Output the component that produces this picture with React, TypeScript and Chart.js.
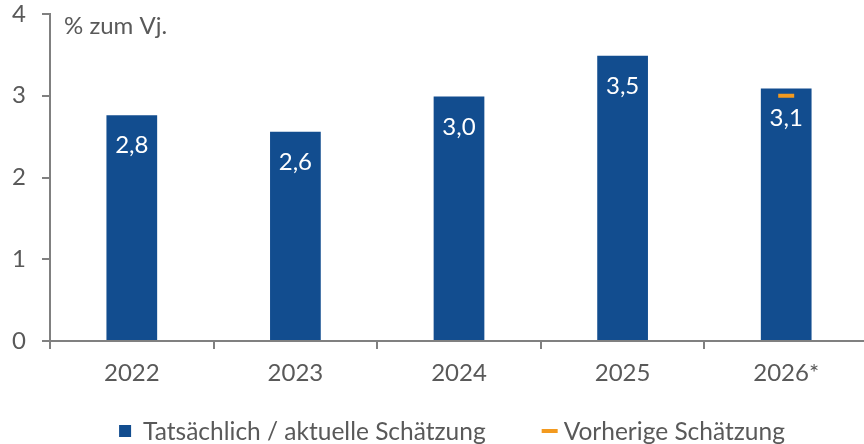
import React, { useEffect, useRef } from 'react';
import { Chart, registerables } from 'chart.js';

Chart.register(...registerables);

const categories = ['2022', '2023', '2024', '2025', '2026*'];
const currentValues = [2.76, 2.56, 2.99, 3.49, 3.09];
const previousValues: (number | null)[] = [null, null, null, null, 3.0];
const yTicks = [0, 1, 2, 3, 4];
const seriesNames = ['Tatsächlich / aktuelle Schätzung', 'Vorherige Schätzung'];
const unitLabel = '% zum Vj.';

const BLUE = '#124D8F';
const ORANGE = '#F39A1F';
const TEXT = '#595959';
const AXIS = '#808080';
const FONT = 'Lato';
const FS = 24;

const fmt = (v: number) => v.toFixed(1).replace('.', ',');

const customPlugin = {
  id: 'custom',
  afterDatasetsDraw(chart: any) {
    const ctx = chart.ctx;
    const meta = chart.getDatasetMeta(0);
    ctx.save();
    ctx.fillStyle = '#FFFFFF';
    ctx.font = `${FS}px ${FONT}`;
    ctx.textAlign = 'center';
    ctx.textBaseline = 'alphabetic';
    meta.data.forEach((bar: any, i: number) => {
      ctx.fillText(fmt(currentValues[i]), bar.x, bar.y + 38);
    });
    ctx.restore();
  },
  afterDraw(chart: any) {
    const ctx = chart.ctx;
    const area = chart.chartArea;
    ctx.save();
    ctx.font = `${FS}px ${FONT}`;
    ctx.fillStyle = TEXT;
    ctx.textAlign = 'left';
    ctx.textBaseline = 'alphabetic';
    ctx.fillText(unitLabel, area.left + 14, 34);

    // legend
    ctx.font = `24.5px ${FONT}`;
    const w1 = ctx.measureText(seriesNames[0]).width;
    const w2 = ctx.measureText(seriesNames[1]).width;
    const box = 12, gap = 12, spacing = 56, dashW = 16, gap2 = 6;
    const total = box + gap + w1 + spacing + dashW + gap2 + w2;
    let x = 452 - total / 2;
    const baseY = 440;
    ctx.fillStyle = BLUE;
    ctx.fillRect(x, 425, box, box);
    x += box + gap;
    ctx.fillStyle = TEXT;
    ctx.fillText(seriesNames[0], x, baseY);
    x += w1 + spacing;
    ctx.fillStyle = ORANGE;
    ctx.fillRect(x, 429, dashW, 4);
    x += dashW + gap2;
    ctx.fillStyle = TEXT;
    ctx.fillText(seriesNames[1], x, baseY);
    ctx.restore();
  },
};

export default function App() {
  const ref = useRef<HTMLCanvasElement | null>(null);
  useEffect(() => {
    if (!ref.current) return;
    const chart = new Chart(ref.current, {
      type: 'bar',
      data: {
        labels: categories,
        datasets: [
          {
            type: 'bar',
            label: seriesNames[0],
            data: currentValues,
            backgroundColor: BLUE,
            borderWidth: 0,
            categoryPercentage: 1,
            barPercentage: 0.31,
            order: 1,
          },
          {
            type: 'line',
            label: seriesNames[1],
            data: previousValues,
            showLine: false,
            pointStyle: 'line',
            pointRadius: 8,
            pointBorderWidth: 4,
            borderColor: ORANGE,
            backgroundColor: ORANGE,
            pointBorderColor: ORANGE,
            order: 0,
          } as any,
        ],
      },
      options: {
        responsive: false,
        animation: false,
        devicePixelRatio: 1,
        layout: { padding: { top: 14, bottom: 43, left: 0, right: 8 } },
        plugins: {
          legend: { display: false },
          tooltip: { enabled: false },
        },
        scales: {
          x: {
            type: 'category',
            offset: true,
            grid: {
              display: true,
              drawOnChartArea: false,
              drawTicks: true,
              tickLength: 8,
              color: AXIS,
              lineWidth: 2,
              offset: true,
            },
            border: { display: true, color: AXIS, width: 2 },
            ticks: { color: TEXT, font: { family: FONT, size: FS }, padding: 10, maxRotation: 0 },
            afterFit: (s: any) => {
              s.height = 60;
              s.paddingLeft = 0;
              s.paddingRight = 0;
            },
          },
          y: {
            min: 0,
            max: 4,
            grid: {
              drawOnChartArea: false,
              drawTicks: true,
              tickLength: 8,
              color: AXIS,
              lineWidth: 2,
            },
            border: { display: true, color: AXIS, width: 2 },
            ticks: { color: TEXT, font: { family: FONT, size: FS }, padding: 16 },
            afterBuildTicks: (s: any) => {
              s.ticks = yTicks.map((v) => ({ value: v }));
            },
            afterFit: (s: any) => {
              s.width = 50;
              s.paddingTop = 0;
              s.paddingBottom = 0;
            },
          },
        },
      },
      plugins: [customPlugin],
    });
    return () => chart.destroy();
  }, []);

  return (
    <div
      style={{
        position: 'fixed',
        left: 0,
        top: 0,
        width: 864,
        height: 444,
        overflow: 'hidden',
        background: '#FFFFFF',
      }}
    >
      <canvas ref={ref} width={880} height={444} style={{ display: 'block' }} />
    </div>
  );
}
